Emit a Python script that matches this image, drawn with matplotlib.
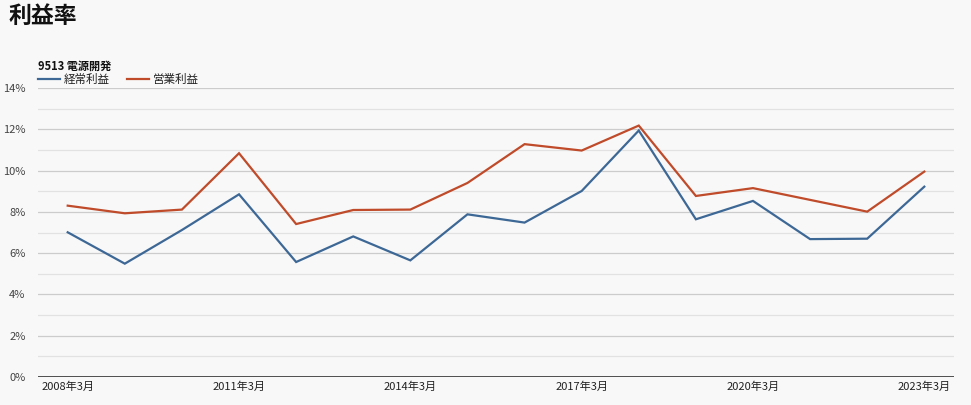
import matplotlib
matplotlib.use("Agg")
import matplotlib.pyplot as plt
from matplotlib.lines import Line2D

plt.rcParams['font.family'] = ['Noto Sans CJK JP', 'DejaVu Sans']

years = list(range(2008, 2024))
categories = [f"{y}年3月" for y in years]
keijo = [7.01, 5.49, 7.12, 8.85, 5.57, 6.81, 5.65, 7.88, 7.48, 9.01,
         11.94, 7.64, 8.53, 6.68, 6.70, 9.22]
eigyo = [8.30, 7.93, 8.11, 10.84, 7.41, 8.09, 8.11, 9.40, 11.28, 10.97,
         12.18, 8.77, 9.15, 8.58, 8.01, 9.95]
series_names = ["経常利益", "営業利益"]
colors = ["#3d6896", "#bf4b2a"]
title = "利益率"
subtitle = "9513 電源開発"
shown_ticks = [0, 3, 6, 9, 12, 15]

W, H = 971, 405
fig = plt.figure(figsize=(W / 100, H / 100), dpi=100)
bg = "#f8f8f8"
fig.patch.set_facecolor(bg)
ax = fig.add_axes([38 / W, (H - 377) / H, (954 - 38) / W, (377 - 88) / H])
ax.set_facecolor(bg)

x = list(range(len(categories)))
ax.set_xlim(-0.52, len(categories) - 0.48)
ax.set_ylim(0, 14)

for v in range(1, 15):
    ax.axhline(v, color="#cccccc" if v % 2 == 0 else "#e2e2e2", lw=0.9, zorder=1)
ax.axhline(0, color="#333333", lw=1.2, zorder=3)

ax.plot(x, keijo, color=colors[0], lw=1.6, zorder=4, solid_joinstyle='miter')
ax.plot(x, eigyo, color=colors[1], lw=1.6, zorder=4, solid_joinstyle='miter')

for s in ax.spines.values():
    s.set_visible(False)

ax.set_yticks(range(0, 15, 2))
ax.set_yticklabels([f"{v}%" for v in range(0, 15, 2)], color="#444444", fontsize=8)
ax.set_xticks(shown_ticks)
ax.set_xticklabels([categories[i] for i in shown_ticks], color="#222222", fontsize=8)
ax.tick_params(axis='y', length=0, pad=9)
ax.tick_params(axis='x', length=0, pad=3)

fig.text(9 / W, 1 - 16 / H, title, fontsize=16.5, fontweight='bold', va='center', ha='left', color="#111111")
fig.text(38 / W, 1 - 66 / H, subtitle, fontsize=8, fontweight='bold', va='center', ha='left', color="#111111")

# legend
ly = 1 - 79 / H
fig.add_artist(Line2D([38 / W, 60 / W], [ly, ly], color=colors[0], lw=1.6, transform=fig.transFigure))
fig.text(64 / W, ly, series_names[0], fontsize=8.3, va='center', ha='left', color="#222222")
fig.add_artist(Line2D([127 / W, 149 / W], [ly, ly], color=colors[1], lw=1.6, transform=fig.transFigure))
fig.text(153 / W, ly, series_names[1], fontsize=8.3, va='center', ha='left', color="#222222")

fig.savefig("out.png", dpi=100, facecolor=bg)
